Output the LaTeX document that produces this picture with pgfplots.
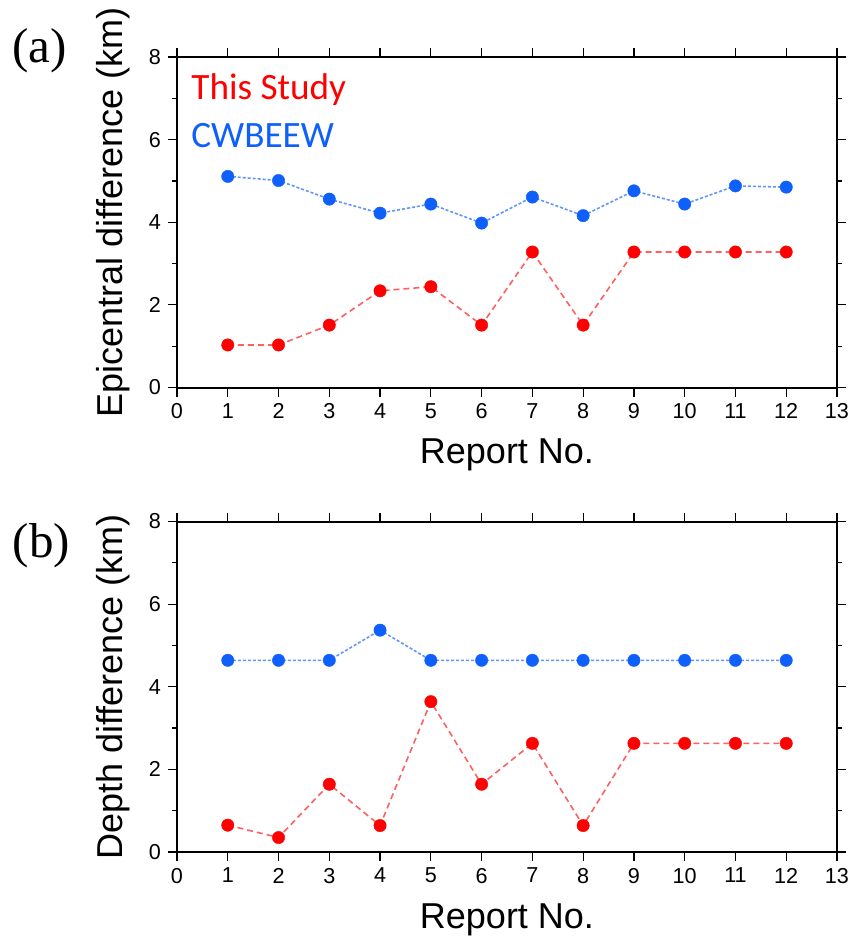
\documentclass[border=0pt]{standalone}
\usepackage{fontspec}
\setmainfont{Liberation Sans}
\newfontfamily\seriffont{Liberation Serif}
\newfontfamily\califont{Carlito}
\usepackage{pgfplots}
\pgfplotsset{compat=1.18}
\definecolor{myred}{RGB}{255,0,0}
\definecolor{myblue}{RGB}{15,95,250}
\definecolor{lred}{RGB}{255,95,95}
\definecolor{lblue}{RGB}{95,150,250}
\pgfplotsset{
 panel/.style={
  scale only axis, width=330pt, height=165.25pt,
  xmin=0, xmax=13, ymin=0, ymax=8,
  xtick={0,...,13}, ytick={0,2,4,6,8}, minor ytick={1,3,5,7},
  tick align=outside,
  major tick length=4.5pt, minor tick length=2.5pt,
  axis line style={line width=1pt},
  every tick/.style={black, line width=0.6pt},
  tick label style={font=\fontsize{10.8}{12}\selectfont},
  /pgf/number format/assume math mode=true,
  label style={font=\fontsize{18}{21}\selectfont},
  xlabel={Report No.},
  xlabel style={at={(axis description cs:0.5,-0.205)}, anchor=center},
  clip=false,
 },
 red series/.style={color=lred, line width=0.8pt, dash pattern=on 3pt off 2pt,
   mark=*, mark size=3.1pt, mark options={solid, fill=myred, draw=myred, line width=0.2pt}},
 blue series/.style={color=lblue, line width=0.8pt, dash pattern=on 1.5pt off 1pt,
   mark=*, mark size=3.1pt, mark options={solid, fill=myblue, draw=myblue, line width=0.2pt}},
}
\begin{document}
\begin{tikzpicture}
\useasboundingbox (-88.5pt,-277.75pt) rectangle (338pt,193.75pt);
% (a)
\begin{axis}[panel, at={(0pt,0pt)}, anchor=south west,
  ylabel style={at={(axis description cs:-0.096,0.53)}, anchor=center},
  ylabel={Epicentral difference (km)}]
\addplot[red series] coordinates {
 (1,1.03) (2,1.03) (3,1.51) (4,2.34) (5,2.44) (6,1.51) (7,3.28) (8,1.51) (9,3.28) (10,3.28) (11,3.28) (12,3.28)};
\addplot[blue series] coordinates {
 (1,5.11) (2,5.01) (3,4.56) (4,4.22) (5,4.44) (6,3.98) (7,4.61) (8,4.16) (9,4.76) (10,4.44) (11,4.88) (12,4.85)};
\end{axis}
% (b)
\begin{axis}[panel, at={(0pt,-232.25pt)}, anchor=south west,
  ylabel style={at={(axis description cs:-0.096,0.5)}, anchor=center},
  ylabel={Depth difference (km)}]
\addplot[red series] coordinates {
 (1,0.65) (2,0.35) (3,1.64) (4,0.64) (5,3.64) (6,1.64) (7,2.63) (8,0.64) (9,2.63) (10,2.63) (11,2.63) (12,2.63)};
\addplot[blue series] coordinates {
 (1,4.64) (2,4.64) (3,4.64) (4,5.37) (5,4.64) (6,4.64) (7,4.64) (8,4.64) (9,4.64) (10,4.64) (11,4.64) (12,4.64)};
\end{axis}
\node[font=\seriffont\fontsize{24.5}{28}\selectfont] at (-68.75pt,168.25pt) {(a)};
\node[font=\seriffont\fontsize{24.5}{28}\selectfont] at (-67.75pt,-79.25pt) {(b)};
\node[anchor=base west, text=myred, font=\califont\fontsize{18.6}{22}\selectfont, inner sep=0pt] at (7pt,144.1pt) {This Study};
\node[anchor=base west, text=myblue, font=\califont\fontsize{18.6}{22}\selectfont, inner sep=0pt] at (7pt,120.25pt) {CWBEEW};
\end{tikzpicture}
\end{document}
